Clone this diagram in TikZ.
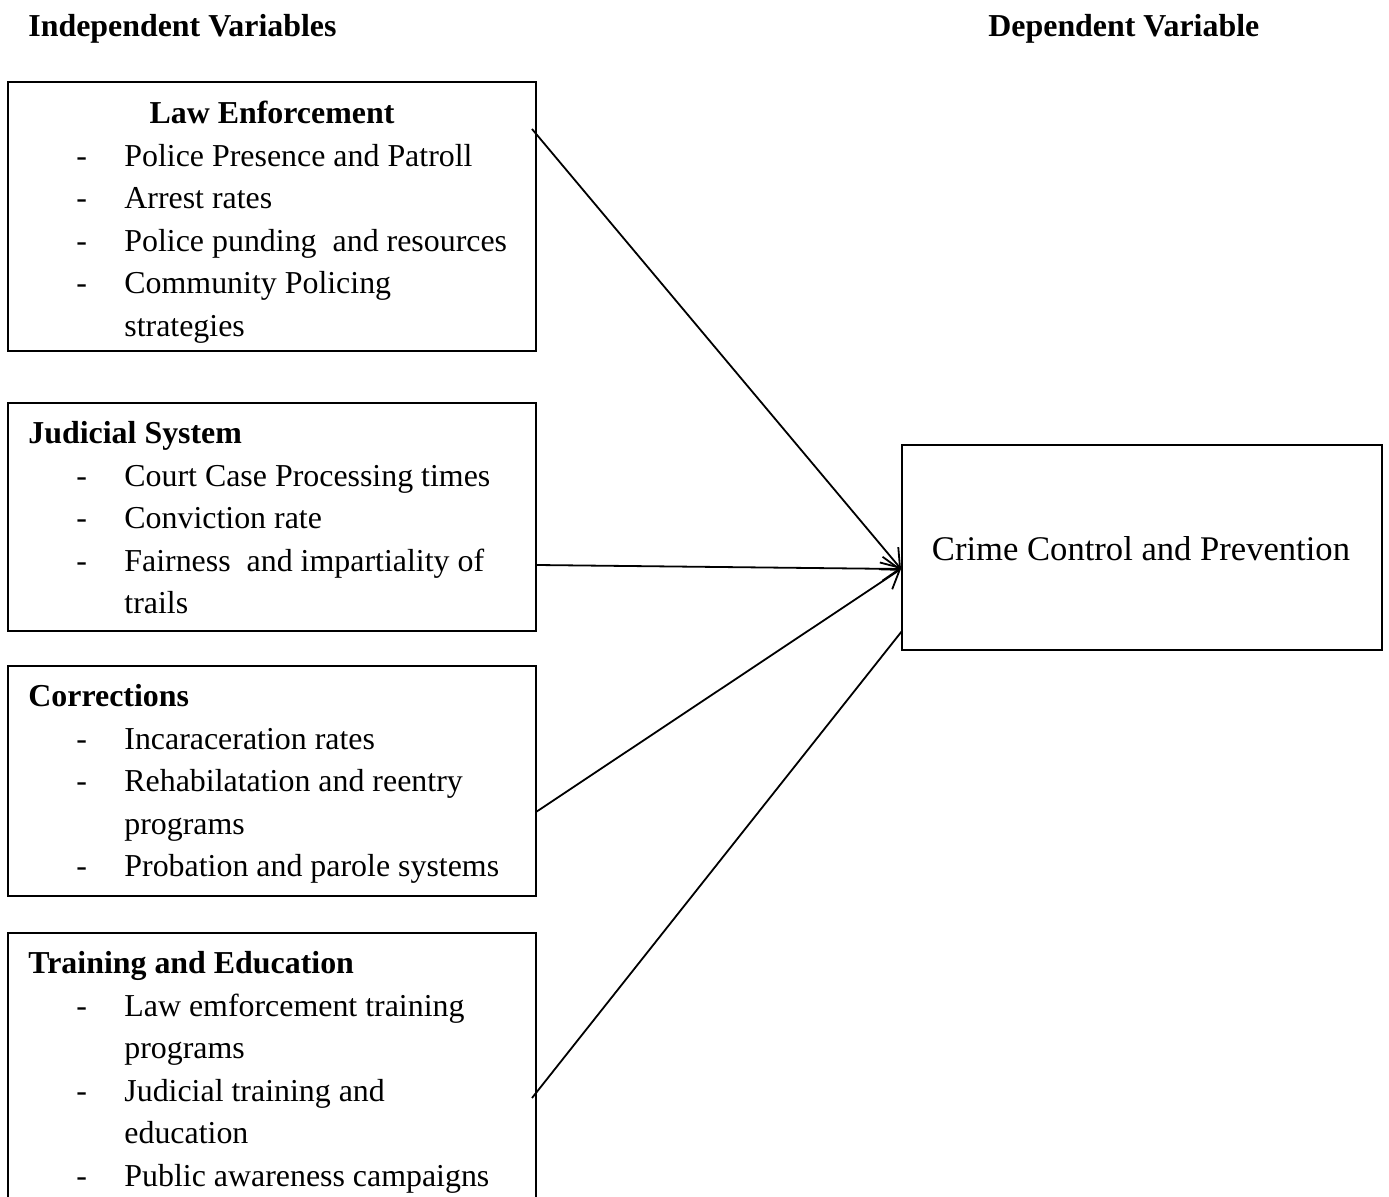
\documentclass[tikz,border=0pt]{standalone}
\usepackage{fontspec}
\setmainfont{Liberation Serif}
\usetikzlibrary{calc,arrows.meta}
\begin{document}
\begin{tikzpicture}[x=0.5pt,y=-0.5pt,
  ibox/.style={draw,line width=0.8pt,inner sep=0pt,outer sep=0pt,anchor=north west,minimum width=264pt},
  txt/.style={anchor=base west,inner sep=0pt,font=\fontsize{15.95}{19}\selectfont},
  ttl/.style={anchor=base west,inner sep=0pt,font=\fontsize{15.95}{19}\selectfont\bfseries},
  conn/.style={line width=0.9pt},
  arr/.style={conn,-{Straight Barb[length=8.5pt,width=12pt,line width=0.9pt]}}
]
\useasboundingbox (0,0) rectangle (1389,1197);
\clip (0,0) rectangle (1389,1197);
\newcommand{\itline}[3]{\node[txt] (d#1) at (76,#2) {-};\node[txt] (#1) at (124,#2) {#3};}
\newcommand{\contline}[3]{\node[txt] (#1) at (124,#2) {#3};}

% boxes
\node[ibox,minimum height=134.5pt] (le) at (8,82) {};
\node[ibox,minimum height=114pt] (js) at (8,403) {};
\node[ibox,minimum height=115pt] (co) at (8,666) {};
\node[ibox,minimum height=150pt] (te) at (8,933) {};
\node[draw,line width=0.8pt,inner sep=0pt,outer sep=0pt,anchor=north west,minimum width=240pt,minimum height=102.5pt] (ccp) at (902,445) {};

\begin{scope}[yshift=-1pt]
% headings
\node[ttl] (hind) at (28,35) {Independent Variables};
\node[ttl] (hdep) at (988,35) {Dependent Variable};

\node[anchor=base,inner sep=0pt,font=\fontsize{17.3}{20}\selectfont] (ccpt) at (1141,559) {Crime Control and Prevention};

% Law Enforcement
\node[ttl,anchor=base] (let) at (272,122) {Law Enforcement};
\itline{le1}{164.5}{Police Presence and Patroll}
\itline{le2}{207}{Arrest rates}
\itline{le3}{249.5}{Police punding\ \ and resources}
\itline{le4}{292}{Community Policing}
\contline{le5}{334.5}{strategies}

% Judicial System
\node[ttl] (jst) at (28,442) {Judicial System};
\itline{js1}{484.5}{Court Case Processing times}
\itline{js2}{527}{Conviction rate}
\itline{js3}{569.5}{Fairness\ \ and impartiality of}
\contline{js4}{612}{trails}

% Corrections
\node[ttl] (cot) at (28,705) {Corrections};
\itline{co1}{747.5}{Incaraceration rates}
\itline{co2}{790}{Rehabilatation and reentry}
\contline{co3}{832.5}{programs}
\itline{co4}{875}{Probation and parole systems}

% Training and Education
\node[ttl] (tet) at (28,972) {Training and Education};
\itline{te1}{1014.5}{Law emforcement training}
\contline{te2}{1057}{programs}
\itline{te3}{1099.5}{Judicial training and}
\contline{te4}{1142}{education}
\itline{te5}{1184.5}{Public awareness campaigns}
\end{scope}

% connectors
\coordinate (tip) at ($(ccp.north west)+(-1,124)$);
\draw[arr] ($(le.north east)+(-4,47)$) -- (tip);
\draw[arr] ($(js.north east)+(0,162)$) -- (tip);
\draw[arr] ($(co.north east)+(0,146)$) -- (tip);
\draw[conn] ($(te.north east)+(-4,165)$) -- ($(ccp.south west)+(0,-19)$);
\end{tikzpicture}
\end{document}
